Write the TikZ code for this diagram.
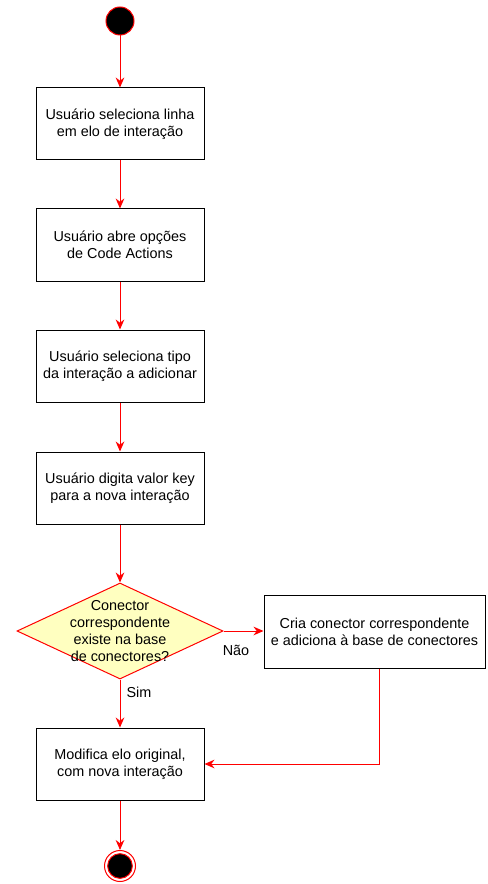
\documentclass[tikz,border=0pt]{standalone}
\usepackage{fontspec}
\setmainfont{Liberation Sans}
\usetikzlibrary{arrows.meta,shapes.geometric}
\definecolor{paleyellow}{HTML}{FFFFC0}
\begin{document}
\begin{tikzpicture}[x=0.75pt,y=-0.75pt,>={Stealth[length=7.5pt,width=6.5pt]},
        every node/.style={font=\fontsize{10.8}{12.9}\selectfont,align=center},
        action/.style={draw,line width=0.75pt,minimum width=126pt,minimum height=54pt,inner sep=0pt},
        decision/.style={diamond,draw=red,fill=paleyellow,line width=0.75pt,minimum width=154.5pt,minimum height=72pt,inner sep=0pt},
        flow/.style={->,red,line width=0.75pt}]
        \useasboundingbox (0,0) rectangle (487,884);
        \node[circle,fill=black,draw=red,line width=0.75pt,minimum size=21pt,inner sep=0pt] (start) at (120,21) {};
        \node[action] (select) at (120,124) {Usuário seleciona linha\\em elo de interação};
        \node[action] (actions) at (120,245) {Usuário abre opções\\de Code Actions};
        \node[action] (kind) at (120,366) {Usuário seleciona tipo\\da interação a adicionar};
        \node[action] (key) at (120,488) {Usuário digita valor key\\para a nova interação};
        \node[decision] (dec) at (120,631) {};
        \node (question) at (dec.center) {Conector\\correspondente\\existe na base\\de conectores?};
        \node[action,minimum width=165.75pt,minimum height=54.75pt] (create) at (374.5,631.5) {Cria conector correspondente\\e adiciona à base de conectores};
        \node[action] (modify) at (120,764) {Modifica elo original,\\com nova interação};
        \node[circle,draw=red,fill=white,line width=0.75pt,minimum size=23.25pt,inner sep=0pt] (stop) at (120,866) {};
        \node[circle,fill=black,draw=red,line width=0.75pt,minimum size=18.5pt,inner sep=0pt] (stopdot) at (stop) {};
        \node (no) at (236,650) {Não};
        \node (yes) at (139,692) {Sim};
        \draw[flow] (start)--(select);
        \draw[flow] (select)--(actions);
        \draw[flow] (actions)--(kind);
        \draw[flow] (kind)--(key);
        \draw[flow] (key)--(dec);
        \draw[flow] (dec.east)--(create.west |- dec.east);
        \draw[flow] (dec)--(modify);
        \draw[flow] ([xshift=3.5pt]create.south) |- (modify.east);
        \draw[flow] (modify)--(stop);
    \end{tikzpicture}
\end{document}
